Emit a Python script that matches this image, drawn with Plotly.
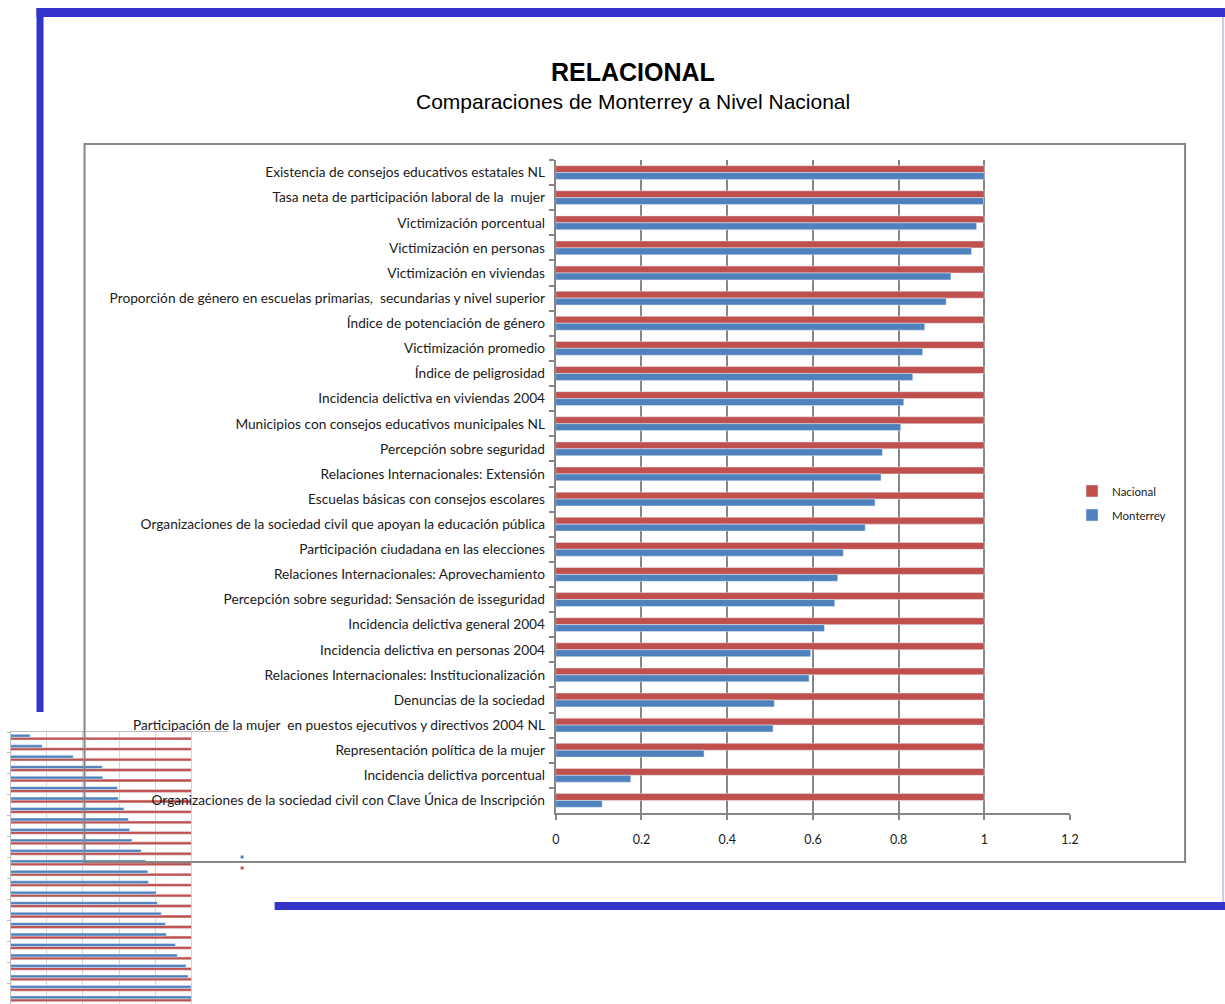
import plotly.graph_objects as go

# Categorías en el orden en que aparecen (de arriba hacia abajo)
categorias = [
    "Existencia de consejos educativos estatales NL",
    "Tasa neta de participación laboral de la  mujer",
    "Victimización porcentual",
    "Victimización en personas",
    "Victimización en viviendas",
    "Proporción de género en escuelas primarias,  secundarias y nivel superior",
    "Índice de potenciación de género",
    "Victimización promedio",
    "Índice de peligrosidad",
    "Incidencia delictiva en viviendas 2004",
    "Municipios con consejos educativos municipales NL",
    "Percepción sobre seguridad",
    "Relaciones Internacionales: Extensión",
    "Escuelas básicas con consejos escolares",
    "Organizaciones de la sociedad civil que apoyan la educación pública",
    "Participación ciudadana en las elecciones",
    "Relaciones Internacionales: Aprovechamiento",
    "Percepción sobre seguridad: Sensación de isseguridad",
    "Incidencia delictiva general 2004",
    "Incidencia delictiva en personas 2004",
    "Relaciones Internacionales: Institucionalización",
    "Denuncias de la sociedad",
    "Participación de la mujer  en puestos ejecutivos y directivos 2004 NL",
    "Representación política de la mujer",
    "Incidencia delictiva porcentual",
    "Organizaciones de la sociedad civil con Clave Única de Inscripción",
]

nacional = [1, 1, 1, 1, 1, 1, 1, 1, 1, 1, 1, 1, 1,
            1, 1, 1, 1, 1, 1, 1, 1, 1, 1, 1, 1, 1]

monterrey = [1.0, 0.998, 0.982, 0.970, 0.922, 0.911, 0.861, 0.856, 0.833,
             0.812, 0.805, 0.762, 0.759, 0.745, 0.722, 0.671, 0.658, 0.651,
             0.627, 0.595, 0.591, 0.510, 0.507, 0.346, 0.175, 0.108]

x_ticks = [0, 0.2, 0.4, 0.6, 0.8, 1, 1.2]

# la captura sale algo comprimida en horizontal, se compensa con un ancho mayor
W, H = 1240, 1004
ESCALA_X = 1226.4
DESPL_X = 4.5
ROJO = "#C0504D"
AZUL = "#4F81BD"
GRIS = "#868686"
BORDE = "#3434CC"
FUENTE = "Lato"


def px(x):
    return (x - DESPL_X) / ESCALA_X


def py(y):
    return 1 - y / H


fig = go.Figure()

# copia pequeña del gráfico (abajo a la izquierda), va primero para quedar debajo
fig.add_trace(go.Bar(y=categorias, x=nacional, orientation="h", marker_color=ROJO,
                     showlegend=False, xaxis="x", yaxis="y", hoverinfo="skip"))
fig.add_trace(go.Bar(y=categorias, x=monterrey, orientation="h", marker_color=AZUL,
                     showlegend=False, xaxis="x", yaxis="y", hoverinfo="skip"))

# gráfico principal
fig.add_trace(go.Bar(y=categorias, x=nacional, orientation="h", marker_color=ROJO,
                     name="Nacional", legend="legend", xaxis="x2", yaxis="y2"))
fig.add_trace(go.Bar(y=categorias, x=monterrey, orientation="h", marker_color=AZUL,
                     name="Monterrey", legend="legend2", xaxis="x2", yaxis="y2"))

fig.update_layout(
    width=W, height=H,
    margin=dict(l=0, r=0, t=0, b=0),
    paper_bgcolor="white",
    plot_bgcolor="rgba(0,0,0,0)",
    barmode="group",
    bargap=0.45,
    bargroupgap=0,
    font=dict(family=FUENTE, size=12, color="#1a1a1a"),
    xaxis=dict(domain=[px(11), px(228)], range=[0, 1.2], tickvals=x_ticks,
               showticklabels=False, showgrid=True, gridcolor="#d4d4d4", gridwidth=1,
               zeroline=False, side="top", showline=True, linecolor="#bdbdbd", linewidth=1),
    yaxis=dict(domain=[0, py(732)], anchor="x", showticklabels=False,
               ticks="outside", tickson="boundaries", ticklen=3, tickcolor="#bdbdbd",
               showline=True, linecolor="#bdbdbd", linewidth=1, showgrid=False),
    xaxis2=dict(domain=[px(556), px(1070)], anchor="y2", range=[0, 1.2], tickvals=x_ticks,
                showgrid=True, gridcolor=GRIS, gridwidth=2, zeroline=False,
                showline=True, linecolor=GRIS, linewidth=2,
                ticks="outside", ticklen=5, tickcolor=GRIS, tickwidth=2,
                ticklabelstandoff=9, tickfont=dict(size=12.5)),
    yaxis2=dict(domain=[py(813), py(160)], anchor="x2", autorange="reversed",
                ticks="outside", tickson="boundaries", ticklen=5, tickcolor=GRIS, tickwidth=2,
                showline=True, linecolor=GRIS, linewidth=2, showgrid=False,
                ticklabelstandoff=6, tickfont=dict(size=13.7)),
    legend=dict(x=px(1072), y=py(491), xanchor="left", yanchor="middle",
                bgcolor="rgba(0,0,0,0)", font=dict(size=11.5)),
    legend2=dict(x=px(1072), y=py(515), xanchor="left", yanchor="middle",
                 bgcolor="rgba(0,0,0,0)", font=dict(size=11.5)),
)

# título y subtítulo
fig.add_annotation(text="<b>RELACIONAL</b>", x=px(633), y=py(72), xref="paper", yref="paper",
                   xanchor="center", yanchor="middle", showarrow=False,
                   font=dict(family="Liberation Sans", size=25, color="black"))
fig.add_annotation(text="Comparaciones de Monterrey a Nivel Nacional", x=px(633), y=py(101),
                   xref="paper", yref="paper", xanchor="center", yanchor="middle",
                   showarrow=False, font=dict(family="Liberation Sans", size=21, color="black"))

# marco azul de la diapositiva
marcos = [
    (37, 8, 1232, 17),
    (37, 8, 44, 712),
    (275, 902, 1232, 910),
]
for x0, y0, x1, y1 in marcos:
    fig.add_shape(type="rect", xref="paper", yref="paper", x0=px(x0), x1=px(x1),
                  y0=py(y0), y1=py(y1), fillcolor=BORDE, line_width=0, layer="above")
fig.add_shape(type="line", xref="paper", yref="paper", x0=px(1223), x1=px(1223),
              y0=py(17), y1=py(902), line=dict(color="#c9c9f2", width=2), layer="above")

# recuadro del gráfico
fig.add_shape(type="rect", xref="paper", yref="paper", x0=px(85), x1=px(1185),
              y0=py(862), y1=py(144), line=dict(color=GRIS, width=2),
              fillcolor="rgba(0,0,0,0)", layer="above")

# restos de la leyenda de la copia pequeña
for yy, col in [(857, AZUL), (868, ROJO)]:
    fig.add_shape(type="rect", xref="paper", yref="paper", x0=px(241), x1=px(244),
                  y0=py(yy + 1.5), y1=py(yy - 1.5), fillcolor=col, line_width=0, layer="above")

# sin margen ni barras de desplazamiento: la figura empieza en (0, 0)
fig.write_html("out.html", config={"displayModeBar": False},
               post_script="document.body.style.margin='0px';"
                           "document.documentElement.style.overflow='hidden';")
